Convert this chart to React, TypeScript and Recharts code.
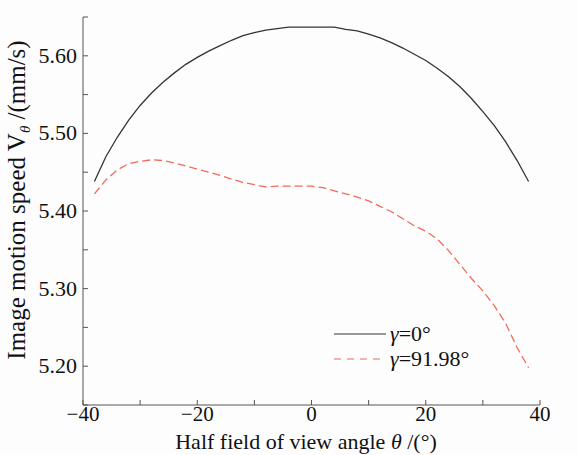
import { LineChart, Line, XAxis, YAxis } from "recharts";

const angles = [
  -38, -36, -34, -32, -30, -28, -26, -24, -22, -20, -18, -16, -14, -12, -10, -8, -6, -4, -2, 0,
  2, 4, 6, 8, 10, 12, 14, 16, 18, 20, 22, 24, 26, 28, 30, 32, 34, 36, 38,
];
const gamma0 = [
  5.438, 5.47, 5.495, 5.517, 5.536, 5.552, 5.566, 5.578, 5.589, 5.598, 5.606, 5.613, 5.62, 5.626,
  5.63, 5.633, 5.635, 5.637, 5.637, 5.637, 5.637, 5.637, 5.634, 5.632, 5.628, 5.623, 5.617, 5.61,
  5.602, 5.594, 5.584, 5.573, 5.56, 5.545, 5.528, 5.51, 5.489, 5.465, 5.438,
];
const gamma9198 = [
  5.422, 5.44, 5.453, 5.461, 5.464, 5.466, 5.465, 5.462, 5.458, 5.454, 5.45, 5.446, 5.441, 5.437,
  5.434, 5.431, 5.432, 5.432, 5.432, 5.432, 5.43, 5.426, 5.422, 5.418, 5.413, 5.406, 5.399, 5.39,
  5.381, 5.374, 5.364, 5.349, 5.331, 5.313, 5.297, 5.278, 5.255, 5.224, 5.198,
];
const xTicks = [-40, -30, -20, -10, 0, 10, 20, 30, 40];
const yTicks = [5.15, 5.2, 5.25, 5.3, 5.35, 5.4, 5.45, 5.5, 5.55, 5.6, 5.65];
const seriesNames = ["=0°", "=91.98°"];

const data = angles.map((a, i) => ({ a, g0: gamma0[i], g1: gamma9198[i] }));

const FONT = "'Liberation Serif', 'Times New Roman', serif";
const AXIS = "#555";
const RED = "#f26a5a";

const XTick = ({ x, y, payload }: any) => {
  const v = payload.value;
  const show = v % 20 === 0;
  return (
    <g>
      <line x1={x} y1={y} x2={x} y2={y - 5} stroke={AXIS} strokeWidth={1} />
      {show && (
        <text x={x} y={y + 16} textAnchor="middle" style={{ fontFamily: FONT, fontSize: 21 }} fill="#111">
          {v < 0 ? "\u2212" + Math.abs(v) : v}
        </text>
      )}
    </g>
  );
};

const YTick = ({ x, y, payload }: any) => {
  const v = payload.value;
  const show = Math.round(v * 100) % 10 === 0;
  return (
    <g>
      <line x1={x} y1={y} x2={x + 5} y2={y} stroke={AXIS} strokeWidth={1} />
      {show && (
        <text x={x - 6} y={y + 7} textAnchor="end" style={{ fontFamily: FONT, fontSize: 22 }} fill="#111">
          {v.toFixed(2)}
        </text>
      )}
    </g>
  );
};

export default function App() {
  return (
    <div style={{ position: "absolute", left: 0, top: 0, width: 577, height: 455, background: "#fdfdfd" }}>
      <LineChart width={577} height={455} data={data} margin={{ top: 17, right: 37, left: 0, bottom: 0 }}>
        <XAxis
          dataKey="a"
          type="number"
          domain={[-40, 40]}
          ticks={xTicks}
          interval={0}
          tick={<XTick />}
          tickLine={false}
          tickSize={0}
          tickMargin={0}
          height={50}
          stroke={AXIS}
        />
        <YAxis
          type="number"
          domain={[5.15, 5.65]}
          ticks={yTicks}
          interval={0}
          tick={<YTick />}
          tickLine={false}
          tickSize={0}
          tickMargin={0}
          width={83}
          stroke={AXIS}
        />
        <Line type="linear" dataKey="g0" stroke="#333" strokeWidth={1.3} dot={false} isAnimationActive={false} />
        <Line
          type="linear"
          dataKey="g1"
          stroke={RED}
          strokeWidth={1.3}
          strokeDasharray="8 4"
          dot={false}
          isAnimationActive={false}
        />
        <text x={306} y={449} textAnchor="middle" style={{ fontFamily: FONT, fontSize: 22 }} fill="#111">
          Half field of view angle <tspan fontStyle="italic">θ</tspan> /(°)
        </text>
        <text
          x={0}
          y={0}
          transform="translate(25, 200) rotate(-90)"
          textAnchor="middle"
          style={{ fontFamily: FONT, fontSize: 25 }}
          fill="#111"
        >
          Image motion speed V
          <tspan fontStyle="italic" fontSize={15} dy={5}>
            θ
          </tspan>
          <tspan dy={-5}> /(mm/s)</tspan>
        </text>
      </LineChart>
      <div
        style={{
          position: "absolute",
          left: 334,
          top: 321,
          fontFamily: FONT,
          fontSize: 22,
          color: "#111",
          lineHeight: "25px",
        }}
      >
        <div style={{ display: "flex", alignItems: "center" }}>
          <svg width={56} height={10}>
            <line x1={0} y1={5} x2={52} y2={5} stroke="#333" strokeWidth={1.2} />
          </svg>
          <span>
            <i>γ</i>
            {seriesNames[0]}
          </span>
        </div>
        <div style={{ display: "flex", alignItems: "center" }}>
          <svg width={56} height={10}>
            <line x1={0} y1={5} x2={52} y2={5} stroke={RED} strokeWidth={1.2} strokeDasharray="7 6" />
          </svg>
          <span>
            <i>γ</i>
            {seriesNames[1]}
          </span>
        </div>
      </div>
    </div>
  );
}
